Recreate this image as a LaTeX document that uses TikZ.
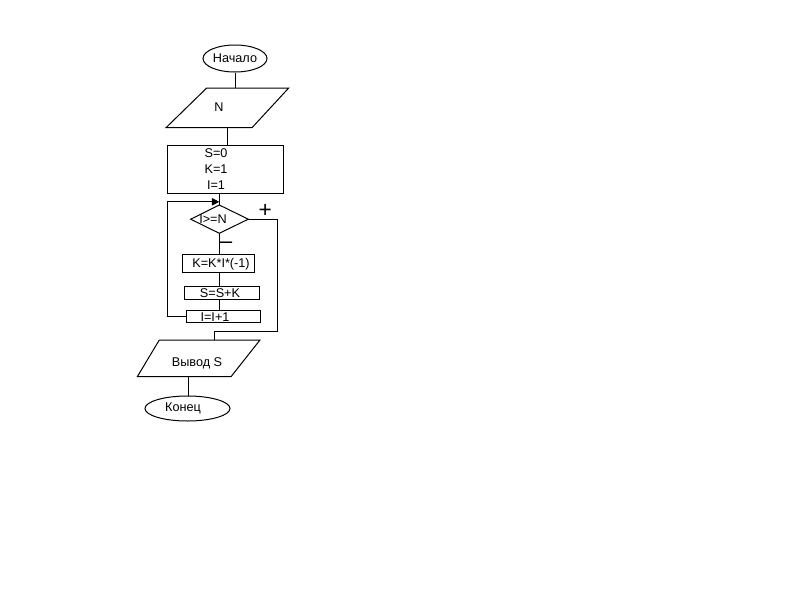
\documentclass[tikz,border=0pt]{standalone}
\usepackage{fontspec}
\setmainfont{Liberation Sans}
\usetikzlibrary{shapes.geometric,arrows.meta}
\begin{document}
\begin{tikzpicture}[x=0.75pt,y=-0.75pt,line width=0.75pt,
  txt/.style={inner sep=0pt,font=\fontsize{9.5}{10}\selectfont},
  term/.style={ellipse,draw,inner sep=0pt},
  box/.style={rectangle,draw,inner sep=0pt},
  sign/.style={inner sep=0pt,font=\fontsize{17}{17}\selectfont}]
\useasboundingbox (0,0) rectangle (800,600);
% start
\node[term,minimum width=48pt,minimum height=20.25pt,txt] (start) at (235,58.5) {Начало};
% input N
\coordinate (nIn) at (235,88);
\coordinate (nOut) at (227,127.7);
\draw (206.7,88) -- (288.7,88) -- (252,127.7) -- (166,127.7) -- cycle;
\node[txt] (tN) at (219,107) {N};
% init
\node[box,minimum width=87pt,minimum height=36pt] (init) at (225,169) {};
\node[txt] (t1) at (216,153.5) {S=0};
\node[txt] (t2) at (216,169.5) {K=1};
\node[txt] (t3) at (216,185) {I=1};
% diamond
\coordinate (dtop) at (219.3,205);
\coordinate (dbot) at (219.3,233.3);
\coordinate (dleft) at (190.7,219.2);
\coordinate (dright) at (248.3,219.2);
\draw (dtop) -- (dright) -- (dbot) -- (dleft) -- cycle;
\node[txt] (tc) at (213,219) {I>=N};
% body
\node[box,minimum width=54.3pt,minimum height=14pt] (rk) at (218.5,263.4) {};
\node[txt] (tk) at (221,263.8) {K=K*I*(-1)};
\node[box,minimum width=55.7pt,minimum height=9.75pt] (rs) at (221.9,292.5) {};
\node[txt] (ts) at (220,292.8) {S=S+K};
\node[box,minimum width=55.5pt,minimum height=8.7pt] (ri) at (223,316.5) {};
\node[txt] (ti) at (215,316.8) {I=I+1};
% output
\coordinate (oIn) at (214.3,340);
\coordinate (oOut) at (188.7,376.7);
\draw (159.3,340) -- (260,340) -- (231,376.7) -- (137.3,376.7) -- cycle;
\node[txt] (to) at (197,363) {Вывод S};
% end
\node[term,minimum width=63.75pt,minimum height=18.75pt] (fin) at (187.5,408.5) {};
\node[txt] (tf) at (183,408.5) {Конец};
% signs
\node[sign] (plus) at (265.3,211) {+};
\node[sign,anchor=center] (minus) at (226,245.5) {–};
% connectors
\draw (start) -- (nIn);
\draw (nOut) -- (nOut |- init.north);
\draw (dtop |- init.south) -- (dtop);
\draw (dbot) -- (dbot |- rk.north);
\draw (rk.south -| dbot) -- (rs.north -| dbot);
\draw (rs.south -| dbot) -- (ri.north -| dbot);
\coordinate (loopx) at (167.3,316.5);
\coordinate (loopin) at (219.3,201.8);
\draw[-{Triangle[length=5.5pt,width=5.5pt]}] (ri.west) -- (loopx) |- (loopin);
\coordinate (rx) at (277.3,219.2);
\coordinate (ry) at (277.3,331.7);
\draw (dright) -- (rx) -- (ry) -| (oIn);
\draw (oOut) -- (oOut |- fin.north);
\end{tikzpicture}
\end{document}
